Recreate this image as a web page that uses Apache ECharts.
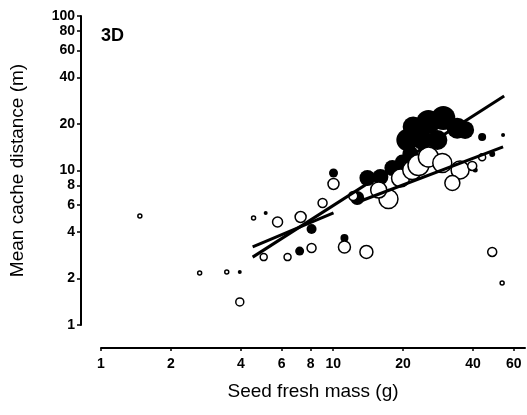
<!DOCTYPE html>
<html>
<head>
<meta charset="utf-8">
<script src="https://cdn.jsdelivr.net/npm/echarts@6/dist/echarts.min.js"></script>
<style>
html,body{margin:0;padding:0;background:#fff;}
#chart{width:527px;height:415px;}
</style>
</head>
<body>
<div id="chart"></div>
<script>
// Tick labels
const massTicks = [1, 2, 4, 6, 8, 10, 20, 40, 60];
const distTicks = [1, 2, 4, 6, 8, 10, 20, 40, 60, 80, 100];

// Open circles: seed mass (g), mean cache distance (m), bubble size
const openMass = [1.47, 2.66, 3.48, 3.96, 4.54, 5.76, 5.02, 6.36, 7.24, 8.07, 9.00, 10.03, 11.18, 13.9, 12.2, 17.3, 15.7, 19.5, 21.9, 23.3, 25.7, 29.5, 35.2, 32.6, 39.7, 43.8, 48.4, 53.4];
const openDist = [5.08, 2.17, 2.20, 1.41, 4.93, 4.64, 2.75, 2.75, 5.00, 3.15, 6.16, 8.18, 3.20, 2.97, 6.84, 6.54, 7.48, 8.94, 10.08, 10.85, 12.23, 11.18, 10.08, 8.30, 10.7, 12.2, 2.97, 1.87];
const openSize = [4, 4, 4, 8, 4, 10, 7, 7, 11, 9, 9, 11, 12, 13, 9, 19, 16, 18, 19, 21, 20, 19, 18, 15, 9, 7, 9, 4];

// Filled circles
const filledMass = [3.96, 5.12, 7.17, 8.07, 10.03, 11.18, 12.7, 14.04, 15.97, 17.98, 19.85, 20.86, 22.1, 25.7, 29.8, 34.2, 28.1, 24.2, 43.8, 53.9, 48.4, 40.9, 37.0, 21.5];
const filledDist = [2.20, 5.31, 3.01, 4.18, 9.63, 3.66, 6.64, 8.94, 9.08, 10.38, 11.35, 15.76, 19.12, 20.6, 21.9, 18.8, 15.76, 15.76, 16.5, 16.98, 12.8, 10.08, 18.3, 12.8];
const filledSize = [4, 4, 9, 10, 9, 8, 14, 16, 16, 16, 15, 22, 21, 24, 24, 21, 20, 20, 8, 4, 6, 5, 18, 16];

// Regression lines (end points)
const fitAllMass = [4.50, 54.5];
const fitAllDist = [2.75, 30.4];
const fitSmallMass = [4.50, 10.03];
const fitSmallDist = [3.20, 5.31];
const fitOpenMass = [12.47, 53.9];
const fitOpenDist = [6.16, 14.2];

function pts(xs, ys, ss) {
  return xs.map((x, i) => ss ? { value: [x, ys[i]], symbolSize: ss[i] } : [x, ys[i]]);
}

const FONT = '"Liberation Sans", Arial, sans-serif';
const chart = echarts.init(document.getElementById('chart'), null, { renderer: 'canvas' });

const lineSeries = (xs, ys) => ({
  type: 'line',
  data: pts(xs, ys),
  showSymbol: false,
  symbol: 'none',
  lineStyle: { color: '#000', width: 3 },
  z: 5,
  silent: true
});

chart.setOption({
  animation: false,
  backgroundColor: '#fff',
  title: {
    text: '3D',
    left: 96,
    top: 22,
    textStyle: { fontFamily: FONT, fontSize: 18, fontWeight: 'bold', color: '#000' }
  },
  grid: { left: 100, right: 2, top: 16, bottom: 90, containLabel: false },
  xAxis: {
    type: 'log',
    logBase: 10,
    min: 1,
    max: 67,
    offset: 23,
    name: 'Seed fresh mass (g)',
    nameLocation: 'middle',
    nameGap: 34,
    nameTextStyle: { fontFamily: FONT, fontSize: 19, color: '#000' },
    axisLine: { show: true, lineStyle: { color: '#000', width: 2 } },
    axisTick: { show: true, customValues: massTicks, length: 3, lineStyle: { color: '#000', width: 1.5 } },
    minorTick: { show: false },
    axisLabel: {
      customValues: massTicks,
      fontFamily: FONT, fontSize: 14, fontWeight: 'bold', color: '#000', margin: 9,
      formatter: v => String(Math.round(v))
    },
    splitLine: { show: false }
  },
  yAxis: {
    type: 'log',
    logBase: 10,
    min: 1,
    max: 100,
    offset: 20,
    name: 'Mean cache distance (m)',
    nameLocation: 'middle',
    nameGap: 54,
    nameRotate: 90,
    nameTextStyle: { fontFamily: FONT, fontSize: 19, color: '#000' },
    axisLine: { show: true, lineStyle: { color: '#000', width: 2 } },
    axisTick: { show: true, customValues: distTicks, length: 4, lineStyle: { color: '#000', width: 1.5 } },
    minorTick: { show: false },
    axisLabel: {
      customValues: distTicks,
      fontFamily: FONT, fontSize: 14, fontWeight: 'bold', color: '#000', margin: 6,
      formatter: v => String(Math.round(v))
    },
    splitLine: { show: false }
  },
  series: [
    {
      type: 'scatter',
      data: pts(filledMass, filledDist, filledSize),
      symbol: 'circle',
      itemStyle: { color: '#000', opacity: 1 },
      z: 2,
      silent: true
    },
    {
      type: 'scatter',
      data: pts(openMass, openDist, openSize),
      symbol: 'circle',
      itemStyle: { color: '#fff', borderColor: '#000', borderWidth: 1.5, opacity: 1 },
      z: 3,
      silent: true
    },
    lineSeries(fitAllMass, fitAllDist),
    lineSeries(fitSmallMass, fitSmallDist),
    lineSeries(fitOpenMass, fitOpenDist)
  ]
});
</script>
</body>
</html>
